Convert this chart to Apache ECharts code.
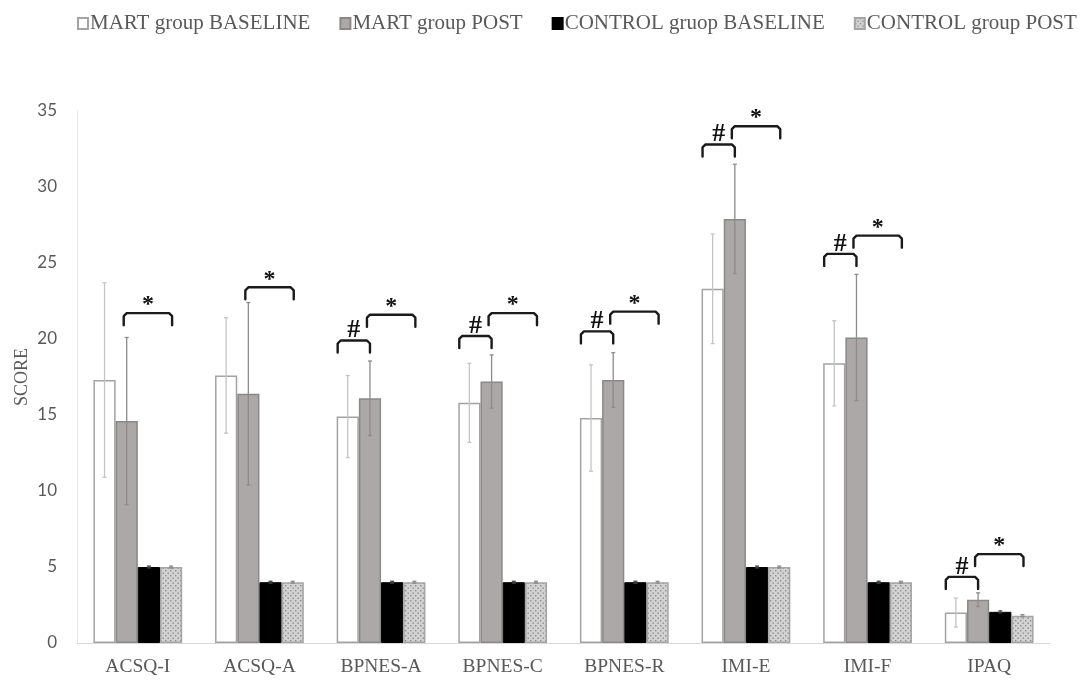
<!DOCTYPE html>
<html>
<head>
<meta charset="utf-8">
<script src="https://cdn.jsdelivr.net/npm/echarts@6/dist/echarts.min.js"></script>
<style>html,body{margin:0;padding:0;background:#fff;}#c{width:1083px;height:680px;}</style>
</head>
<body>
<div id="c"></div>
<script>
const categories = ['ACSQ-I','ACSQ-A','BPNES-A','BPNES-C','BPNES-R','IMI-E','IMI-F','IPAQ'];
const seriesNames = ['MART group BASELINE','MART group POST','CONTROL gruop BASELINE','CONTROL group POST'];
const martBase   = [17.3, 17.6, 14.9, 15.8, 14.8, 23.3, 18.4, 2.0];
const martBaseSD = [6.4, 3.8, 2.7, 2.6, 3.5, 3.6, 2.8, 0.95];
const martPost   = [14.6, 16.4, 16.1, 17.2, 17.3, 27.9, 20.1, 2.85];
const martPostSD = [5.5, 6.0, 2.45, 1.75, 1.8, 3.6, 4.15, 0.45];
const ctrlBase   = [5.0, 4.0, 4.0, 4.0, 4.0, 5.0, 4.0, 2.05];
const ctrlBaseSD = [0.06, 0.06, 0.06, 0.06, 0.06, 0.06, 0.06, 0.06];
const ctrlPost   = [5.0, 4.0, 4.0, 4.0, 4.0, 5.0, 4.0, 1.8];
const ctrlPostSD = [0.06, 0.06, 0.06, 0.06, 0.06, 0.06, 0.06, 0.06];
// significance brackets: [category index, bracket top value]
const hashBrackets = [[2, 19.9], [3, 20.2], [4, 20.5], [5, 32.8], [6, 25.6], [7, 4.35]];
const starBrackets = [[0, 21.7], [1, 23.4], [2, 21.6], [3, 21.7], [4, 21.8], [5, 34.0], [6, 26.8], [7, 5.85]];
const yTicks = {min: 0, max: 35, interval: 5};

const catGap = 0.27;
const means = [martBase, martPost, ctrlBase, ctrlPost];
const sds = [martBaseSD, martPostSD, ctrlBaseSD, ctrlPostSD];

// dotted pattern
const pc = document.createElement('canvas');
pc.width = 5; pc.height = 5;
const pctx = pc.getContext('2d');
pctx.fillStyle = '#d2d2d2'; pctx.fillRect(0,0,5,5);
pctx.fillStyle = '#8e8e8e';
pctx.fillRect(0,0,1.4,1.4);
pctx.fillRect(2.5,2.5,1.4,1.4);

const barStyles = [
  {color:'#ffffff', borderColor:'#a3a3a3', borderWidth:1.5},
  {color:'#aca8a8', borderColor:'#8a8888', borderWidth:1.5},
  {color:'#000000', borderColor:'#000000', borderWidth:1},
  {color:{image: pc, repeat:'repeat'}, borderColor:'#a5a5a5', borderWidth:1.5}
];
const errColors = ['#c4c4c4', '#8d8b8b', '#444444', '#8a8a8a'];

function barX(api, cat, s) {
  const c = api.coord([cat, 0]);
  const band = api.size([1, 0])[0];
  const group = band * (1 - catGap);
  const bw = group / 4;
  return {center: c[0] - group / 2 + bw * (s + 0.5), left: c[0] - group / 2, bw: bw};
}

const errData = [];
for (let s = 0; s < 4; s++) {
  for (let i = 0; i < categories.length; i++) {
    errData.push([i, s, means[s][i], sds[s][i]]);
  }
}
const brData = [];
hashBrackets.forEach(d => brData.push([d[0], d[1], 0]));
starBrackets.forEach(d => brData.push([d[0], d[1], 1]));

const serif = 'Liberation Serif';
const series = seriesNames.map((n, s) => ({
  name: n, type: 'bar', data: means[s],
  barGap: '0%', barCategoryGap: (catGap * 100) + '%',
  itemStyle: barStyles[s], emphasis: {disabled: true}
}));
series.push({
  type: 'custom', name: 'err', z: 5, silent: true,
  data: errData, encode: {x: 0, y: 2},
  renderItem: function (params, api) {
    const cat = api.value(0), s = api.value(1), m = api.value(2), sd = api.value(3);
    const x = barX(api, cat, s).center;
    const yt = api.coord([cat, m + sd])[1];
    const yb = api.coord([cat, m - sd])[1];
    const st = {stroke: errColors[s], lineWidth: 1.3};
    return {type: 'group', children: [
      {type: 'line', shape: {x1: x, y1: yt, x2: x, y2: yb}, style: st},
      {type: 'line', shape: {x1: x - 2, y1: yt, x2: x + 2, y2: yt}, style: st},
      {type: 'line', shape: {x1: x - 2, y1: yb, x2: x + 2, y2: yb}, style: st}
    ]};
  }
});
series.push({
  type: 'custom', name: 'sig', z: 6, silent: true,
  data: brData, encode: {x: 0, y: 1},
  renderItem: function (params, api) {
    const cat = api.value(0), v = api.value(1), k = api.value(2);
    const g = barX(api, cat, 0);
    let x1, x2;
    if (k === 0) { x1 = g.left + 1; x2 = g.left + g.bw * 1.5; }
    else { x1 = g.left + g.bw * 1.5 - 3; x2 = g.left + g.bw * 3.5 + 1; }
    const y = api.coord([cat, v])[1];
    const leg = 12, r = 3;
    return {type: 'group', children: [
      {type: 'polyline', shape: {points: [[x1, y + leg], [x1, y + r], [x1 + r, y], [x2 - r, y], [x2, y + r], [x2, y + leg]]},
       style: {stroke: '#1a1a1a', lineWidth: 2.4, fill: null, lineJoin: 'round', lineCap: 'round'}},
      {type: 'text', x: (x1 + x2) / 2, y: k === 0 ? y + 3 : y + 4,
       style: {text: k === 0 ? '#' : '*', fill: '#111', font: 'bold ' + (k === 0 ? 26 : 24) + 'px "' + serif + '"',
               align: 'center', verticalAlign: 'bottom'}}
    ]};
  }
});

const chart = echarts.init(document.getElementById('c'), null, {renderer: 'canvas'});
chart.setOption({
  animation: false,
  backgroundColor: '#ffffff',
  legend: {
    data: seriesNames, top: 13, left: 77, width: 1006, padding: 0,
    icon: 'rect', itemWidth: 10, itemHeight: 11, itemGap: 29,
    textStyle: {fontFamily: serif, fontSize: 21, color: '#595959', padding: [0, 0, 0, -3]}
  },
  grid: {left: 77, right: 33, top: 111, bottom: 37, containLabel: false},
  xAxis: {
    type: 'category', data: categories,
    axisLine: {show: true, lineStyle: {color: '#d9d9d9', width: 1}},
    axisTick: {show: false},
    axisLabel: {fontFamily: serif, fontSize: 19.5, color: '#595959', margin: 14}
  },
  yAxis: {
    type: 'value', min: yTicks.min, max: yTicks.max, interval: yTicks.interval,
    name: 'SCORE', nameLocation: 'middle', nameRotate: 90, nameGap: 46, nameMoveOverlap: false,
    nameTextStyle: {fontFamily: serif, fontSize: 18, color: '#595959'},
    axisLine: {show: true, lineStyle: {color: '#e6e6e6', width: 1}},
    axisTick: {show: false},
    splitLine: {show: false},
    axisLabel: {fontFamily: 'Lato', fontSize: 17, color: '#595959', margin: 20}
  },
  series: series
});
</script>
</body>
</html>
